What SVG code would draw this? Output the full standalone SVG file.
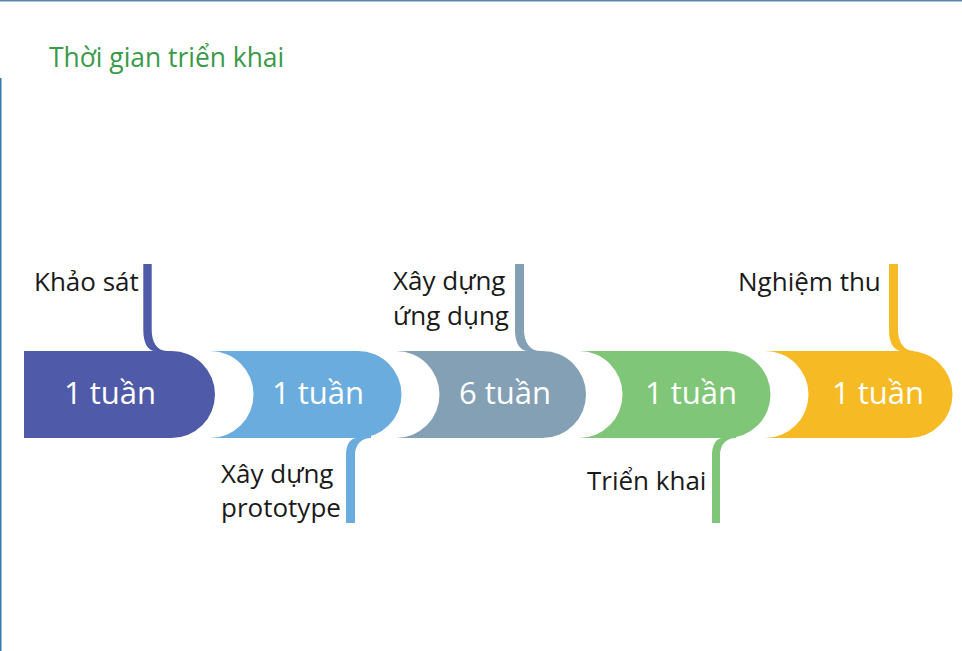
<svg xmlns="http://www.w3.org/2000/svg" width="962" height="651" viewBox="0 0 962 651">
<style>
  .title { font-family: "Open Sans", "Noto Sans", "Liberation Sans", sans-serif; font-size: 26.4px; fill: #3a9a48; }
  .dur { font-family: "Open Sans", "Noto Sans", "Liberation Sans", sans-serif; font-size: 31px; fill: #ffffff; text-anchor: middle; }
  .lbl { font-family: "Open Sans", "Noto Sans", "Liberation Sans", sans-serif; font-size: 26px; fill: #1a1a1a; }
  .c1 { fill: #4f5ba8; }
  .c2 { fill: #6bacdf; }
  .c3 { fill: #84a0b5; }
  .c4 { fill: #80c678; }
  .c5 { fill: #f6ba25; }
</style>
<rect x="0" y="0" width="962" height="651" fill="#ffffff"/>
<line x1="0" y1="0.75" x2="962" y2="0.75" stroke="#5a86ab" stroke-width="1.5"/>
<line x1="0.75" y1="78" x2="0.75" y2="651" stroke="#3a78aa" stroke-width="1.5"/>
<text class="title" x="49" y="67">Thời gian triển khai</text>

<g id="connectors">
  <path class="c1" d="M143.3,264 H151.7 V330 C151.7,342 157,351 167,351 V358 H155 V351 C148,351 143.3,343 143.3,330 Z"/>
  <path class="c2" d="M346,523 H355 V455 C355,445 361,438 371,438 V430 H357 V438 C350,438 346,445 346,455 Z"/>
  <path class="c3" d="M515,264 H524 V330 C524,342 530,351 540,351 V358 H528 V351 C520,351 515,343 515,330 Z"/>
  <path class="c4" d="M712,523 H720 V455 C720,445 726,438 736,438 V430 H723 V438 C716,438 712,445 712,455 Z"/>
  <path class="c5" d="M889,264 H898 V330 C898,342 904,351 914,351 V358 H902 V351 C894,351 889,343 889,330 Z"/>
</g>

<g id="node1">
  <path class="c1" d="M24,351 H171.5 A43.5,43.5 0 0 1 171.5,438 H24 Z"/>
  <text class="dur" x="110" y="404">1 tuần</text>
  <text class="lbl" x="34" y="291">Khảo sát</text>
</g>
<g id="node2">
  <path class="c2" d="M210,351 H358 A43.5,43.5 0 0 1 358,438 H210 A43.5,43.5 0 0 0 210,351 Z"/>
  <text class="dur" x="318" y="404">1 tuần</text>
  <text class="lbl" x="221" y="483">Xây dựng</text>
  <text class="lbl" x="221" y="517">prototype</text>
</g>
<g id="node3">
  <path class="c3" d="M396,351 H542.5 A43.5,43.5 0 0 1 542.5,438 H396 A43.5,43.5 0 0 0 396,351 Z"/>
  <text class="dur" x="505" y="404">6 tuần</text>
  <text class="lbl" x="393" y="290">Xây dựng</text>
  <text class="lbl" x="393" y="325">ứng dụng</text>
</g>
<g id="node4">
  <path class="c4" d="M579,351 H727 A43.5,43.5 0 0 1 727,438 H579 A43.5,43.5 0 0 0 579,351 Z"/>
  <text class="dur" x="691" y="404">1 tuần</text>
  <text class="lbl" x="587" y="490">Triển khai</text>
</g>
<g id="node5">
  <path class="c5" d="M765,351 H909 A43.5,43.5 0 0 1 909,438 H765 A43.5,43.5 0 0 0 765,351 Z"/>
  <text class="dur" x="878" y="404">1 tuần</text>
  <text class="lbl" x="738" y="291">Nghiệm thu</text>
</g>
</svg>
